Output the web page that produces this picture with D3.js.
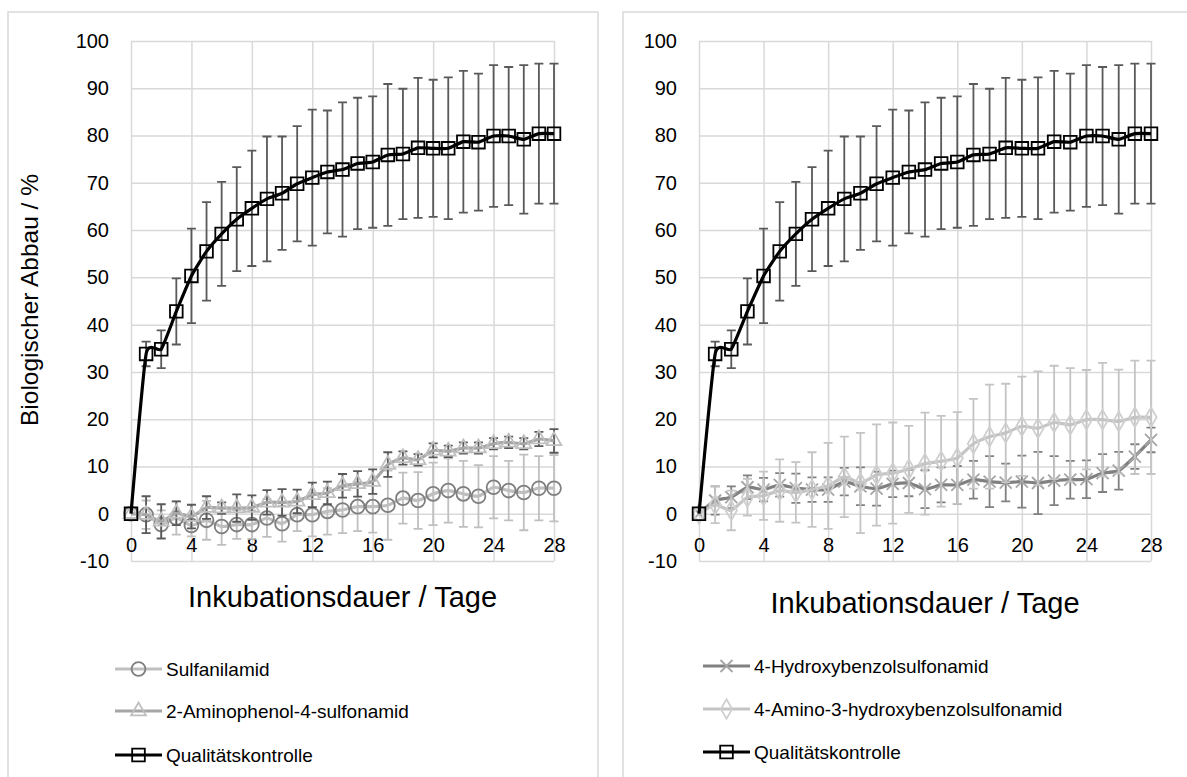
<!DOCTYPE html>
<html>
<head>
<meta charset="utf-8">
<script src="https://cdn.jsdelivr.net/npm/d3@7"></script>
<style>
  body { margin: 0; background: #fff; }
  svg { font-family: "Liberation Sans", Arial, sans-serif; }
</style>
</head>
<body>
<svg id="render" width="1187" height="777"></svg>
<script>
const days = [0,1,2,3,4,5,6,7,8,9,10,11,12,13,14,15,16,17,18,19,20,21,22,23,24,25,26,27,28];
const xTicks = [0,4,8,12,16,20,24,28];
const yTicks = [-10,0,10,20,30,40,50,60,70,80,90,100];

// Qualitätskontrolle (beide Diagramme)
const qcMean = [0,33.8,34.8,42.8,50.3,55.5,59.2,62.3,64.6,66.6,67.8,69.8,71.1,72.3,72.8,74.1,74.4,75.9,76.1,77.4,77.3,77.3,78.7,78.6,79.9,79.9,79.2,80.4,80.4];
const qcSd   = [0,2.6,4,7,10,10.4,11,11,12.2,13.2,12,12.2,14.4,13,14.2,13.9,13.9,15,13.8,14.8,14.5,15,15,14.5,15,14.6,15.7,14.8,14.8];

// links
const sulfaMean = [0,-0.2,-2.3,-0.9,-2.5,-1.4,-2.7,-2.3,-2.3,-0.9,-2.1,-0.2,-0.2,0.5,0.8,1.5,1.5,1.8,3.3,2.8,4.2,4.9,4.2,3.7,5.6,4.9,4.5,5.4,5.4];
const sulfaSd   = [0,3,3,3.5,2.3,4.1,3.9,3,3,4,3.8,3.5,4.6,4.9,4.9,5.2,5.5,7.3,5.4,6,6.6,6.8,7,6.6,6.6,6.3,8,6.8,7];
const aminoMean = [0,-0.2,-1.6,0.1,-0.6,1.3,1.2,1.2,1.3,2.4,2.4,2.6,4.0,4.4,5.9,6.3,6.8,10.4,11.8,11.4,13.4,13.2,13.9,13.9,14.8,15.1,14.8,15.8,15.4];
const aminoSd   = [0,3.9,3.6,2.5,2.5,2.4,1.2,2.9,2.6,2.6,2.8,2.5,2.6,2.4,2.5,2.7,2.6,2.6,1.4,1.2,1.5,1.2,1.2,1.2,1.2,1.2,1.2,1.5,2.5];

// rechts
const hydroxyMean = [0,2.8,3.5,5.6,5.1,6.1,5.4,5.1,5.1,6.8,5.8,5.3,6.3,6.5,5.2,6.1,6.1,7.2,6.8,6.6,6.8,6.5,7.0,7.2,7.3,8.6,9.1,12.1,15.6];
const hydroxySd   = [0,3,2.3,2.5,2.5,2.5,3.1,2.6,2.6,2.9,4,3.6,2.8,2.8,4,3.7,4,4,5.4,4,5.5,6.6,5.2,4,4,4,4,2.6,2.6];
const aminoHydMean = [0,1.9,0.7,3.5,3.8,4.9,4.5,5.1,5.9,7.8,6.5,8.2,8.6,9.4,10.6,11.1,11.8,14.8,16.3,17.1,18.5,18.1,19.3,18.8,19.9,19.9,19.5,20.4,20.4];
const aminoHydSd   = [0,3.9,4.2,3.9,5.1,6.6,6.4,7.9,9.1,8.5,10.6,10.7,10.7,9.2,10.8,9.6,9.7,9.5,11,10.4,10.5,12,12,12,10.5,12,11,12,12];

const seriesLeft = [
  {name: "Sulfanilamid", mean: sulfaMean, sd: sulfaSd, line: "#bfbfbf", mark: "#7f7f7f", err: "#bfbfbf", shape: "circle"},
  {name: "2-Aminophenol-4-sulfonamid", mean: aminoMean, sd: aminoSd, line: "#a6a6a6", mark: "#bfbfbf", err: "#595959", shape: "triangle"},
  {name: "Qualitätskontrolle", mean: qcMean, sd: qcSd, line: "#000000", mark: "#000000", err: "#595959", shape: "square"}
];
const seriesRight = [
  {name: "4-Hydroxybenzolsulfonamid", mean: hydroxyMean, sd: hydroxySd, line: "#808080", mark: "#a6a6a6", err: "#808080", shape: "x"},
  {name: "4-Amino-3-hydroxybenzolsulfonamid", mean: aminoHydMean, sd: aminoHydSd, line: "#c4c4c4", mark: "#cfcfcf", err: "#c4c4c4", shape: "diamond"},
  {name: "Qualitätskontrolle", mean: qcMean, sd: qcSd, line: "#000000", mark: "#000000", err: "#595959", shape: "square"}
];

const svg = d3.select("svg#render");
const grid = "#d9d9d9";

const markerPath = shape => {
  if (shape === "x") return "M-6,-6L6,6M-6,6L6,-6";
  const t = {circle: [d3.symbolCircle, 150], triangle: [d3.symbolTriangle, 95],
             square: [d3.symbolSquare, 160], diamond: [d3.symbolDiamond, 110]}[shape];
  return d3.symbol(t[0], t[1])();
};

function panel(p) {
  const g = svg.append("g");
  g.append("rect")
    .attr("x", p.box[0]).attr("y", 12)
    .attr("width", p.box[1] - p.box[0]).attr("height", 800)
    .attr("fill", "#fff").attr("stroke", grid).attr("stroke-width", 1.5);

  const x = d3.scaleLinear().domain([0, 28]).range(p.xr);
  const y = d3.scaleLinear().domain([-10, 100]).range([561, 41]);

  // gridlines
  g.append("g").attr("transform", `translate(${p.xr[0]},0)`)
    .call(d3.axisLeft(y).tickValues(yTicks).tickSize(-(p.xr[1] - p.xr[0])).tickFormat(""))
    .call(a => a.select(".domain").remove())
    .call(a => a.selectAll("line").attr("stroke", grid).attr("stroke-width", 1.5));
  g.append("g").attr("transform", "translate(0,561)")
    .call(d3.axisBottom(x).tickValues(xTicks).tickSizeInner(-520).tickFormat(""))
    .call(a => a.select(".domain").remove())
    .call(a => a.selectAll("line").attr("stroke", grid).attr("stroke-width", 1.5));

  // tick labels
  g.append("g").attr("transform", `translate(${p.xr[0]},0)`)
    .call(d3.axisLeft(y).tickValues(yTicks).tickSize(0).tickPadding(p.ylabPad).tickFormat(d => String(d)))
    .call(a => a.select(".domain").remove())
    .call(a => a.selectAll("text").attr("font-size", 20).attr("fill", "#000").attr("font-family", null));
  g.append("g").attr("transform", `translate(0,${y(0)})`)
    .call(d3.axisBottom(x).tickValues(xTicks).tickSize(0).tickPadding(24).tickFormat(d => String(d)))
    .call(a => a.select(".domain").remove())
    .call(a => a.selectAll("text").attr("font-size", 20).attr("fill", "#000").attr("font-family", null));

  // x title
  g.append("text")
    .attr("x", (p.xr[0] + p.xr[1]) / 2).attr("y", p.xtY)
    .attr("text-anchor", "middle").attr("font-size", 29)
    .text("Inkubationsdauer / Tage");

  const line = d3.line().x((d, i) => x(days[i])).y(d => y(d)).curve(d3.curveCardinal.tension(0.5));

  p.series.forEach(s => {
    const pts = days.map((d, i) => ({d, m: s.mean[i], e: s.sd[i]})).filter(o => o.e > 0);
    const eb = g.append("g").attr("stroke", s.err).attr("stroke-width", 1.8).attr("fill", "none");
    eb.selectAll("path").data(pts).enter().append("path")
      .attr("d", o => {
        const cx = x(o.d), t = y(o.m + o.e), b = y(o.m - o.e);
        return `M${cx},${t}V${b}M${cx - 4.5},${t}H${cx + 4.5}M${cx - 4.5},${b}H${cx + 4.5}`;
      });
    g.append("path").datum(s.mean)
      .attr("d", line).attr("fill", "none")
      .attr("stroke", s.line).attr("stroke-width", 3.2);
    g.append("g").selectAll("path").data(days).enter().append("path")
      .attr("transform", (d, i) => `translate(${x(d)},${y(s.mean[i])})`)
      .attr("d", markerPath(s.shape))
      .attr("fill", "none").attr("stroke", s.mark).attr("stroke-width", 1.8);
  });

  // legend
  const lg = g.append("g");
  p.series.forEach((s, i) => {
    const ly = p.legY[i];
    lg.append("line").attr("x1", p.legX).attr("x2", p.legX + 47)
      .attr("y1", ly).attr("y2", ly).attr("stroke", s.line).attr("stroke-width", 3.2);
    lg.append("path").attr("transform", `translate(${p.legX + 23.5},${ly})`)
      .attr("d", markerPath(s.shape)).attr("fill", "none")
      .attr("stroke", s.mark).attr("stroke-width", 1.8);
    lg.append("text").attr("x", p.legX + 51).attr("y", ly).attr("dy", "0.35em")
      .attr("font-size", 19).text(s.name);
  });
  return {x, y};
}

panel({box: [8, 598], xr: [131, 554], ylabPad: 22, xtY: 607, series: seriesLeft,
       legX: 115, legY: [669, 711, 755]});
panel({box: [623, 1192], xr: [699, 1151], ylabPad: 22, xtY: 613, series: seriesRight,
       legX: 703, legY: [666, 709, 752]});

// y title (links)
svg.append("text")
  .attr("transform", "translate(38,300) rotate(-90)")
  .attr("text-anchor", "middle").attr("font-size", 24.5)
  .text("Biologischer Abbau / %");
</script>
</body>
</html>
